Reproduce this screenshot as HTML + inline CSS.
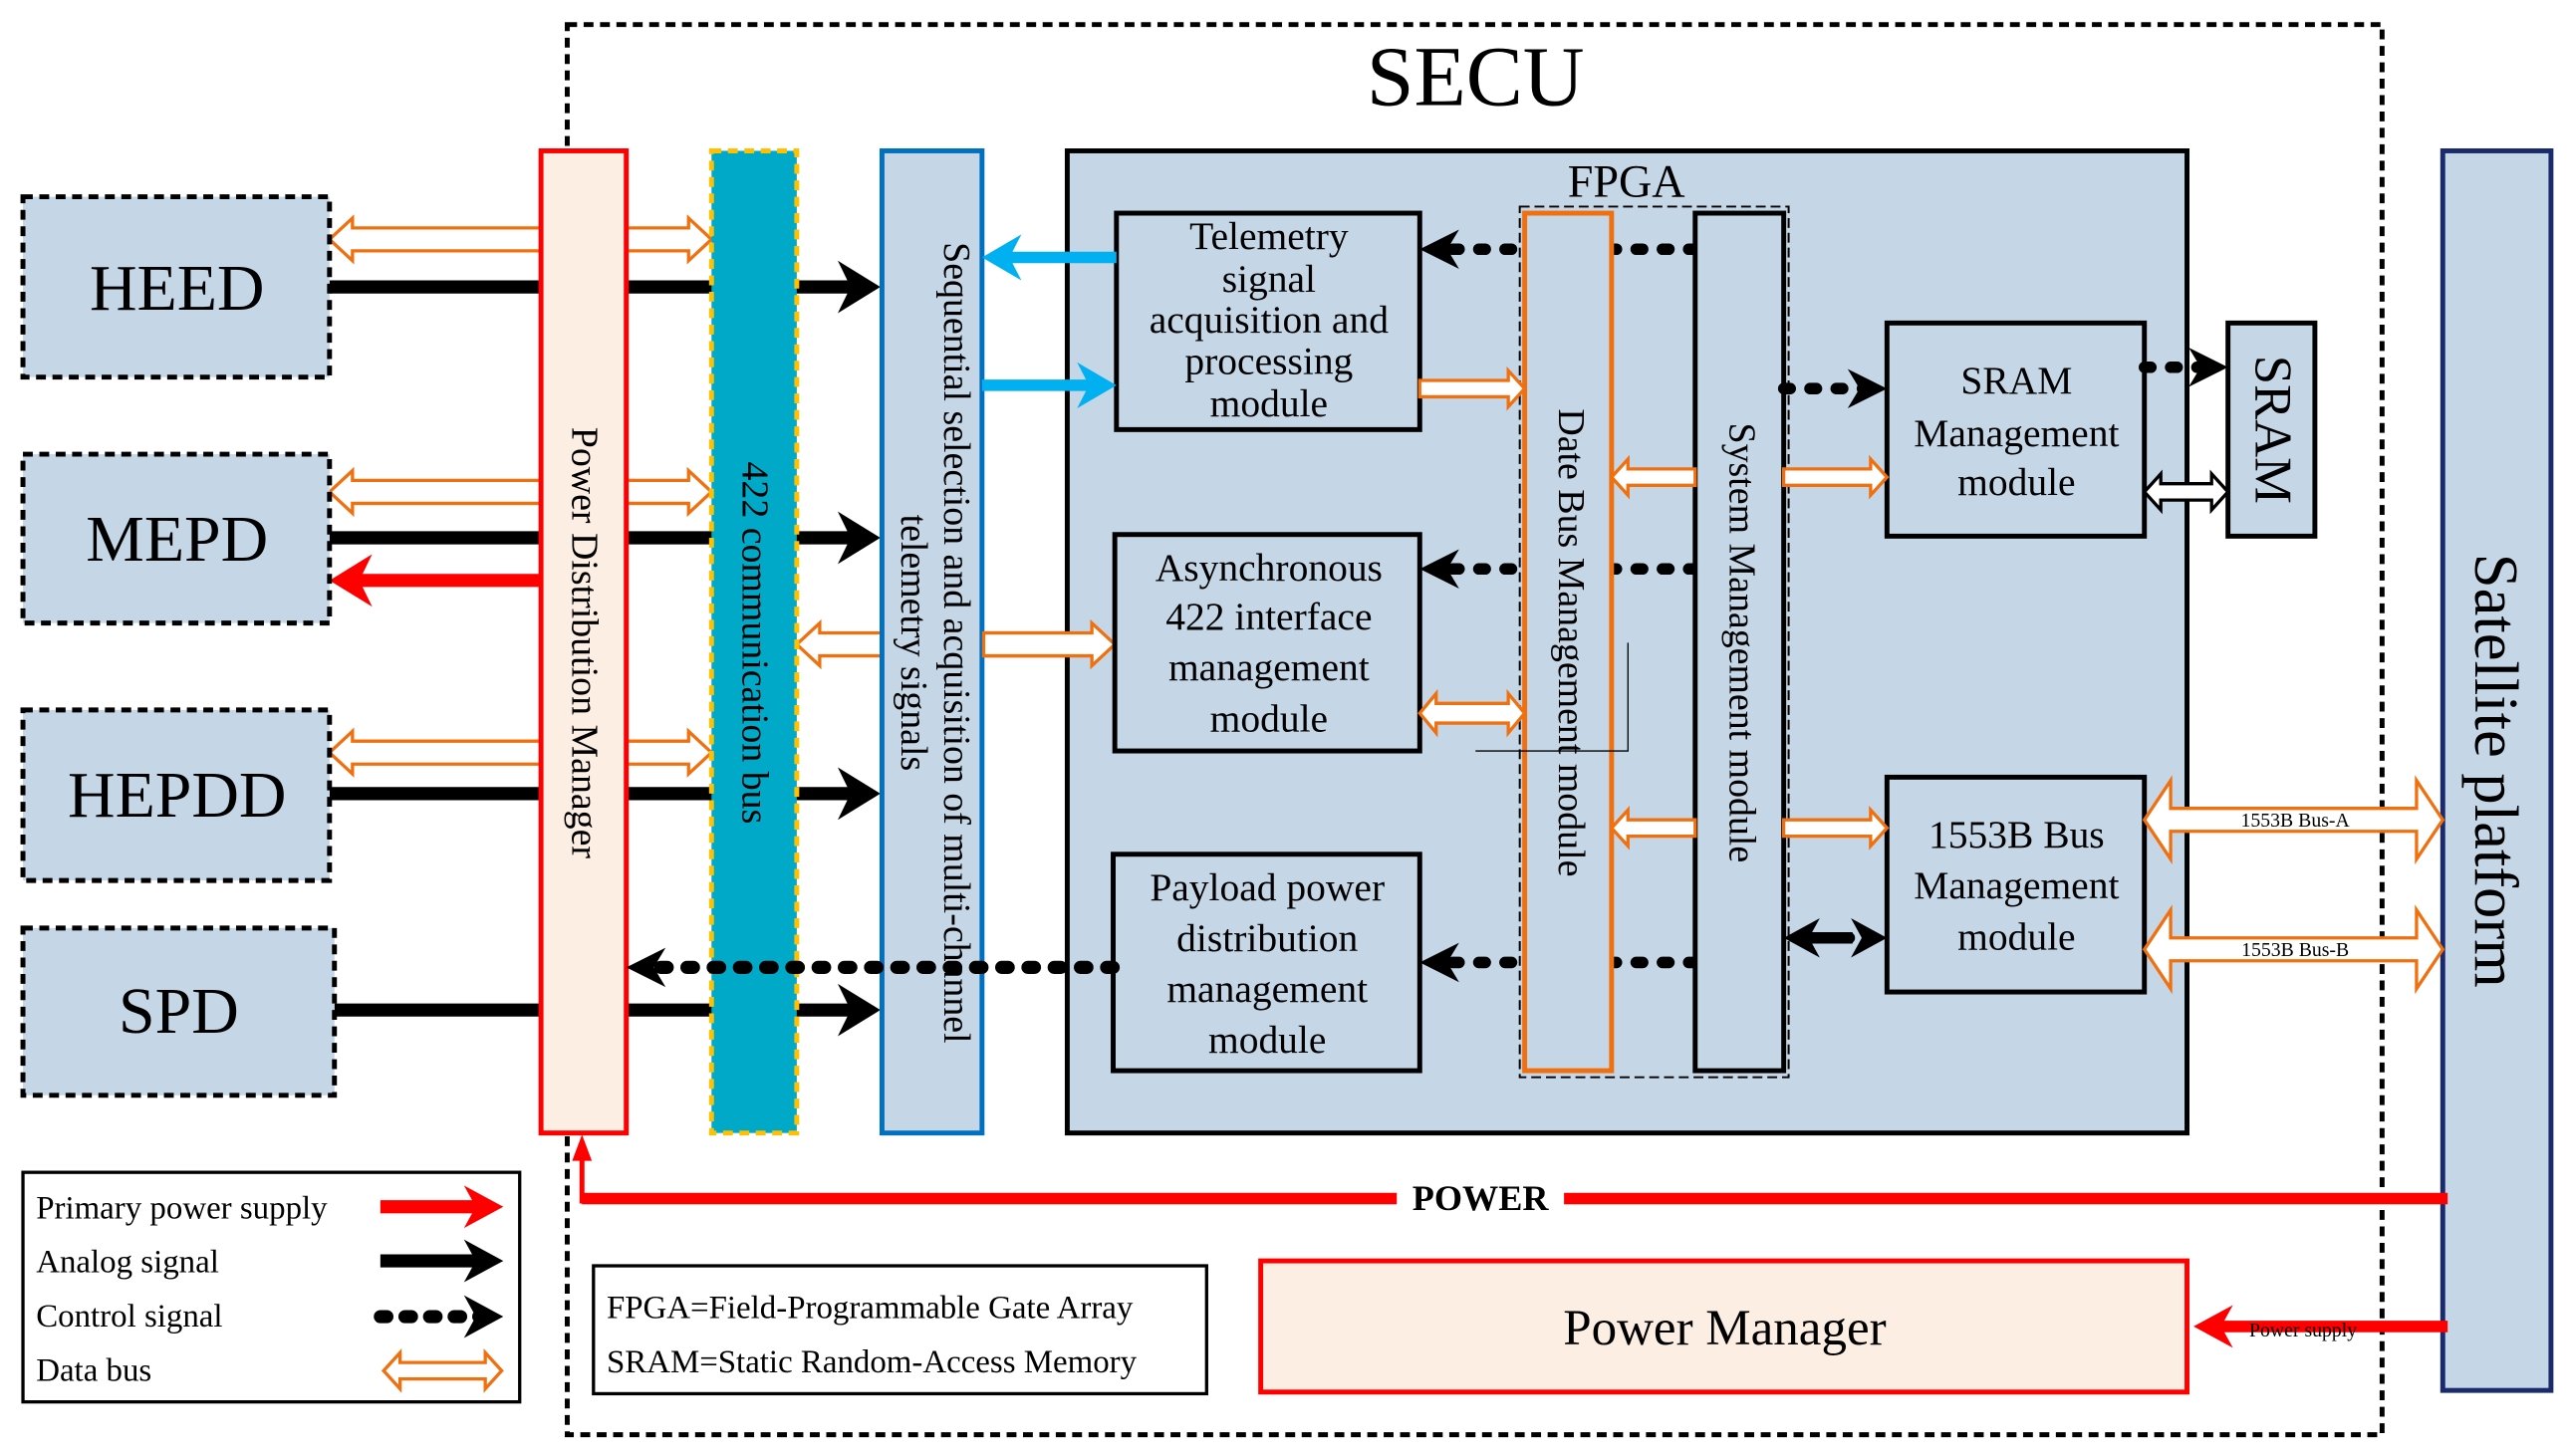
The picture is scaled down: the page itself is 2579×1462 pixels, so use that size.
<!DOCTYPE html>
<html><head><meta charset="utf-8"><style>
html,body{margin:0;padding:0;background:#fff;}
svg{display:block;}
svg text{font-family:"Liberation Serif","Times New Roman",serif;fill:#000;}
</style></head><body>
<svg id="s" width="2579" height="1462" viewBox="0 0 1567 888" preserveAspectRatio="none" xmlns="http://www.w3.org/2000/svg" font-family="Liberation Serif, serif">
<g id="under"></g>
<!-- SECU -->
<rect x="346" y="15" width="1107" height="860" fill="none" stroke="#000" stroke-width="3" stroke-dasharray="6 4"/>
<text x="900" y="64" font-size="52" text-anchor="middle">SECU</text>
<!-- left devices -->
<g fill="#c5d7e6" stroke="#000" stroke-width="3" stroke-dasharray="6 4">
<rect x="14" y="120" width="187" height="110"/>
<rect x="14" y="277" width="187" height="103"/>
<rect x="14" y="433" width="187" height="104"/>
<rect x="14" y="566" width="190" height="102"/>
</g>
<g font-size="40" text-anchor="middle">
<text x="108" y="189">HEED</text>
<text x="108" y="342">MEPD</text>
<text x="108" y="498">HEPDD</text>
<text x="109" y="630">SPD</text>
</g>
<g id="under2"></g>
<!-- PDM -->
<rect x="330" y="92" width="52" height="599" fill="#fdeee3" stroke="#ff0000" stroke-width="3"/>
<text transform="translate(349,392) rotate(90)" font-size="23" text-anchor="middle">Power Distribution Manager</text>
<!-- 422 bus -->
<rect x="434" y="92" width="52" height="599" fill="#00a9c7" stroke="#ffc000" stroke-width="3" stroke-dasharray="6 4"/>
<text transform="translate(453,392) rotate(90)" font-size="23" text-anchor="middle">422 communication bus</text>
<!-- Sequential -->
<rect x="538" y="92" width="61" height="599" fill="#c5d7e6" stroke="#0070c0" stroke-width="3"/>
<text transform="translate(576,392) rotate(90)" font-size="23" text-anchor="middle">Sequential selection and acquisition of multi-channel<tspan x="0" dy="26">telemetry signals</tspan></text>
<!-- FPGA -->
<rect x="651" y="92" width="683" height="599" fill="#c5d7e6" stroke="#000" stroke-width="3"/>
<text x="992" y="120" font-size="28" text-anchor="middle">FPGA</text>
<g id="mid"></g>
<rect x="927" y="126" width="164" height="531" fill="none" stroke="#000" stroke-width="1.2" stroke-dasharray="6 3"/>
<g fill="#c5d7e6" stroke="#000" stroke-width="3">
<rect x="681" y="130" width="185" height="132"/>
<rect x="680" y="326" width="186" height="132"/>
<rect x="679" y="521" width="187" height="132"/>
<rect x="1034" y="130" width="54" height="523"/>
<rect x="1151" y="197" width="157" height="130"/>
<rect x="1359" y="197" width="53" height="130"/>
<rect x="1151" y="474" width="157" height="131"/>
</g>
<rect x="930" y="130" width="53" height="523" fill="#c5d7e6" stroke="#f07010" stroke-width="3"/>
<polyline points="993,392 993,458 900,458" fill="none" stroke="#000" stroke-width="0.8"/>
<g font-size="24" text-anchor="middle">
<text x="774" y="152">Telemetry</text><text x="774" y="178">signal</text><text x="774" y="203">acquisition and</text><text x="774" y="228">processing</text><text x="774" y="254">module</text>
<text x="774" y="354">Asynchronous</text><text x="774" y="384">422 interface</text><text x="774" y="415">management</text><text x="774" y="446">module</text>
<text x="773" y="549">Payload power</text><text x="773" y="580">distribution</text><text x="773" y="611">management</text><text x="773" y="642">module</text>
<text x="1230" y="240">SRAM</text><text x="1230" y="272">Management</text><text x="1230" y="302">module</text>
<text x="1230" y="517">1553B Bus</text><text x="1230" y="548">Management</text><text x="1230" y="579">module</text>
</g>
<text transform="translate(951,392) rotate(90)" font-size="23" text-anchor="middle">Date Bus Management module</text>
<text transform="translate(1055,392) rotate(90)" font-size="23" text-anchor="middle">System Management module</text>
<text transform="translate(1376,262) rotate(90)" font-size="32" text-anchor="middle">SRAM</text>
<!-- Satellite -->
<rect x="1490" y="92" width="66" height="756" fill="#c5d7e6" stroke="#1a2a6c" stroke-width="3"/>
<text transform="translate(1510,470) rotate(90)" font-size="38" text-anchor="middle">Satellite platform</text>
<!-- Legend -->
<rect x="14" y="715" width="303" height="140" fill="#fff" stroke="#000" stroke-width="2"/>
<g font-size="20">
<text x="22" y="743">Primary power supply</text>
<text x="22" y="776">Analog signal</text>
<text x="22" y="809">Control signal</text>
<text x="22" y="842">Data bus</text>
</g>
<rect x="362" y="772" width="374" height="78" fill="#fff" stroke="#000" stroke-width="2"/>
<g font-size="20">
<text x="370" y="804">FPGA=Field-Programmable Gate Array</text>
<text x="370" y="837">SRAM=Static Random-Access Memory</text>
</g>
<rect x="769" y="769" width="565" height="80" fill="#fdeee3" stroke="#ff0000" stroke-width="3"/>
<text x="1052" y="820" font-size="31" text-anchor="middle">Power Manager</text>
<g id="over"></g>
<text x="903" y="738" font-size="22" font-weight="bold" text-anchor="middle">POWER</text>
<text x="1372" y="815" font-size="12">Power supply</text>
<text x="1400" y="504" font-size="12" text-anchor="middle">1553B Bus-A</text>
<text x="1400" y="583" font-size="12" text-anchor="middle">1553B Bus-B</text>
</svg>
<script>
var NS="http://www.w3.org/2000/svg";
function el(g,t,a){var e=document.createElementNS(NS,t);for(var k in a)e.setAttribute(k,a[k]);document.getElementById(g).appendChild(e);return e;}
function hd(g,x1,x2,y,h,H,L,st,fill){
 var d=x2>x1?1:-1;
 var p=[[x1,y],[x1+d*L,y-H],[x1+d*L,y-h],[x2-d*L,y-h],[x2-d*L,y-H],[x2,y],[x2-d*L,y+H],[x2-d*L,y+h],[x1+d*L,y+h],[x1+d*L,y+H]];
 el(g,"polygon",{points:p.join(" "),fill:fill||"#fff",stroke:st||"#f07010","stroke-width":2});}
function hs(g,x1,x2,y,h,H,L,st){
 var d=x2>x1?1:-1;
 var p=[[x1,y-h],[x2-d*L,y-h],[x2-d*L,y-H],[x2,y],[x2-d*L,y+H],[x2-d*L,y+h],[x1,y+h]];
 el(g,"polygon",{points:p.join(" "),fill:"#fff",stroke:st||"#f07010","stroke-width":2});}
function sa(g,x1,x2,y,c,w,H,L,dash){
 var d=x2>x1?1:-1;
 var a={x1:x1,y1:y,x2:x2-d*L*0.6,y2:y,stroke:c,"stroke-width":w};
 if(dash){a["stroke-dasharray"]=dash;a["stroke-linecap"]="round";}
 el(g,"line",a);
 el(g,"polygon",{points:[[x2,y],[x2-d*L,y-H],[x2-d*L*0.7,y],[x2-d*L,y+H]].join(" "),fill:c});}
[146,300,459].forEach(function(y){hd("under",201,434,y,7,13,14);});
hd("under",486,680,393,7,13,14);
[175,328,484].forEach(function(y){sa("under",201,537,y,"#000",8,16,26);});
sa("under",204,537,616,"#000",8,16,26);
sa("under",330,201,354,"#f00",8,16,26);
sa("over",679,382,590,"#000",8,12,24,"4 12");
// behind date bus
sa("mid",1034,866,152,"#000",7,12,24,"4 12");
sa("mid",1034,866,347,"#000",7,12,24,"4 12");
sa("mid",1034,866,587,"#000",7,12,24,"4 12");
hs("mid",600,680,393,7,13,14);
sa("over",681,599,157,"#00b0f0",7,14,24);
sa("over",599,681,235,"#00b0f0",7,14,24);
hs("over",866,930,237,5,11,10);
hd("over",866,930,435,6,12,10);
hs("over",1034,983,291,5,11,10);hs("over",1088,1151,291,5,11,10);
hs("over",1034,983,505,5,11,10);hs("over",1088,1151,505,5,11,10);
sa("over",1088,1151,237,"#000",7,12,24,"4 12");
sa("over",1308,1359,224,"#000",7,12,24,"4 12");
sa("over",1110,1151,572,"#000",7,12,22,"4 10");sa("over",1130,1088,572,"#000",7,12,22);
hd("over",1308,1359,300,5,11,10,"#000");
hd("over",1308,1490,500,7,24,16);
hd("over",1308,1490,579,7,24,16);
el("over","line",{x1:1493,y1:731,x2:355,y2:731,stroke:"#f00","stroke-width":7});
el("over","rect",{x:852,y:720,width:102,height:22,fill:"#fff"});
el("over","line",{x1:355,y1:734,x2:355,y2:705,stroke:"#f00","stroke-width":3});
el("over","polygon",{points:"355,692 349,708 361,708",fill:"#f00"});
sa("over",1493,1338,809,"#f00",7,13,24);
sa("over",232,307,736,"#f00",8,13,24);
sa("over",232,307,769,"#000",8,13,24);
sa("over",232,307,803,"#000",8,13,24,"4 11");
hd("over",234,306,836,5,11,10);
</script>
</body></html>
